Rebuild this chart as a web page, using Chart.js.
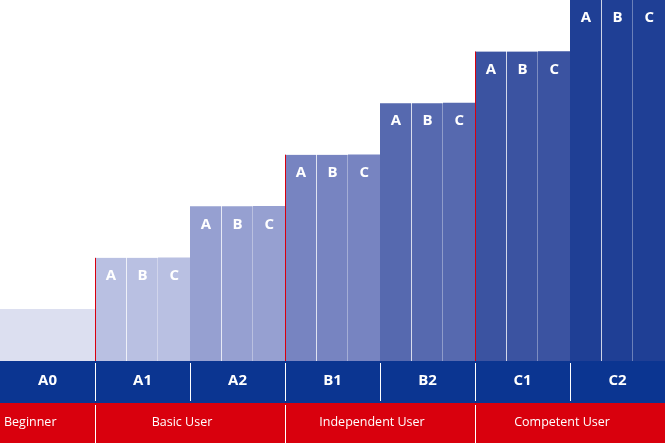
<!DOCTYPE html>
<html><head><meta charset="utf-8">
<script src="https://cdn.jsdelivr.net/npm/chart.js@4.4.1/dist/chart.umd.min.js"></script>
<style>html,body{margin:0;padding:0;background:#fff}#w{width:665px;height:443px}</style>
</head><body><div id="w"><canvas id="c"></canvas></div>
<script>
const levels = ["A0","A1","A2","B1","B2","C1","C2"];
const levelValues = [1,2,3,4,5,6,7];
const subLabels = ["A","B","C"];
const groups = [{name:"Beginner",from:0,to:1,align:"left"},{name:"Basic User",from:1,to:3},{name:"Independent User",from:3,to:5},{name:"Competent User",from:5,to:7}];
const colors = ["#dcdff0","#b9c0e2","#96a0d1","#7784c1","#5669af","#3b53a1","#1f3f95"];

const cats=[],vals=[],cols=[];
levels.forEach((l,i)=>{for(let k=0;k<3;k++){cats.push(l+subLabels[k]);vals.push(levelValues[i]);cols.push(colors[i]);}});

const FONT='"Open Sans", sans-serif';
const deco={id:"deco",afterDatasetsDraw(ch){
 const ctx=ch.ctx,a=ch.chartArea,meta=ch.getDatasetMeta(0).data;
 const colL=i=>meta[i*3].x-meta[i*3].width/2, colR=i=>meta[i*3+2].x+meta[i*3+2].width/2;
 ctx.save();
 // sub labels
 ctx.fillStyle="#fff";ctx.font="bold 15px "+FONT;ctx.textAlign="center";ctx.textBaseline="middle";
 for(let i=1;i<levels.length;i++)for(let k=0;k<3;k++){const b=meta[i*3+k];ctx.fillText(subLabels[k],b.x,b.y+18);}
 // blue band
 const y0=a.bottom;
 ctx.fillStyle="#0b3591";ctx.fillRect(a.left,y0,a.right-a.left,42);
 ctx.fillStyle="#d9000d";ctx.fillRect(a.left,y0+42,a.right-a.left,40);
 ctx.fillStyle="#fff";ctx.font="bold 15px "+FONT;
 levels.forEach((l,i)=>{ctx.fillText(l,(colL(i)+colR(i))/2,y0+20);});
 ctx.strokeStyle="#fff";ctx.lineWidth=1;
 for(let i=1;i<levels.length;i++){const x=Math.round(colL(i))+0.5;ctx.beginPath();ctx.moveTo(x,y0+2);ctx.lineTo(x,y0+40);ctx.stroke();}
 ctx.font="12.5px "+FONT;
 groups.forEach(g=>{const l=colL(g.from),r=colR(g.to-1);
  if(g.align==="left"){ctx.textAlign="left";ctx.fillText(g.name,l+4,y0+61);}else{ctx.textAlign="center";ctx.fillText(g.name,(l+r)/2-8,y0+61);}
  if(g.from>0){const x=Math.round(l)+0.5;ctx.beginPath();ctx.moveTo(x,y0+44);ctx.lineTo(x,y0+82);ctx.stroke();
   ctx.strokeStyle="#d9000d";ctx.beginPath();ctx.moveTo(x,meta[g.from*3].y);ctx.lineTo(x,y0);ctx.stroke();ctx.strokeStyle="#fff";}
 });
 ctx.restore();
}};

new Chart(document.getElementById("c"),{type:"bar",
 data:{labels:cats,datasets:[{data:vals,backgroundColor:cols,borderColor:"#fff",
  borderWidth:c=>c.dataIndex<3?0:{left:0,right:c.dataIndex%3===2?0:1,top:0,bottom:0},borderSkipped:false,
  categoryPercentage:1,barPercentage:1}]},
 options:{responsive:true,maintainAspectRatio:false,animation:false,events:[],
  layout:{padding:{bottom:82}},
  plugins:{legend:{display:false},tooltip:{enabled:false}},
  scales:{x:{display:false},y:{display:false,min:0,max:7}}},
 plugins:[deco]});
</script></body></html>
